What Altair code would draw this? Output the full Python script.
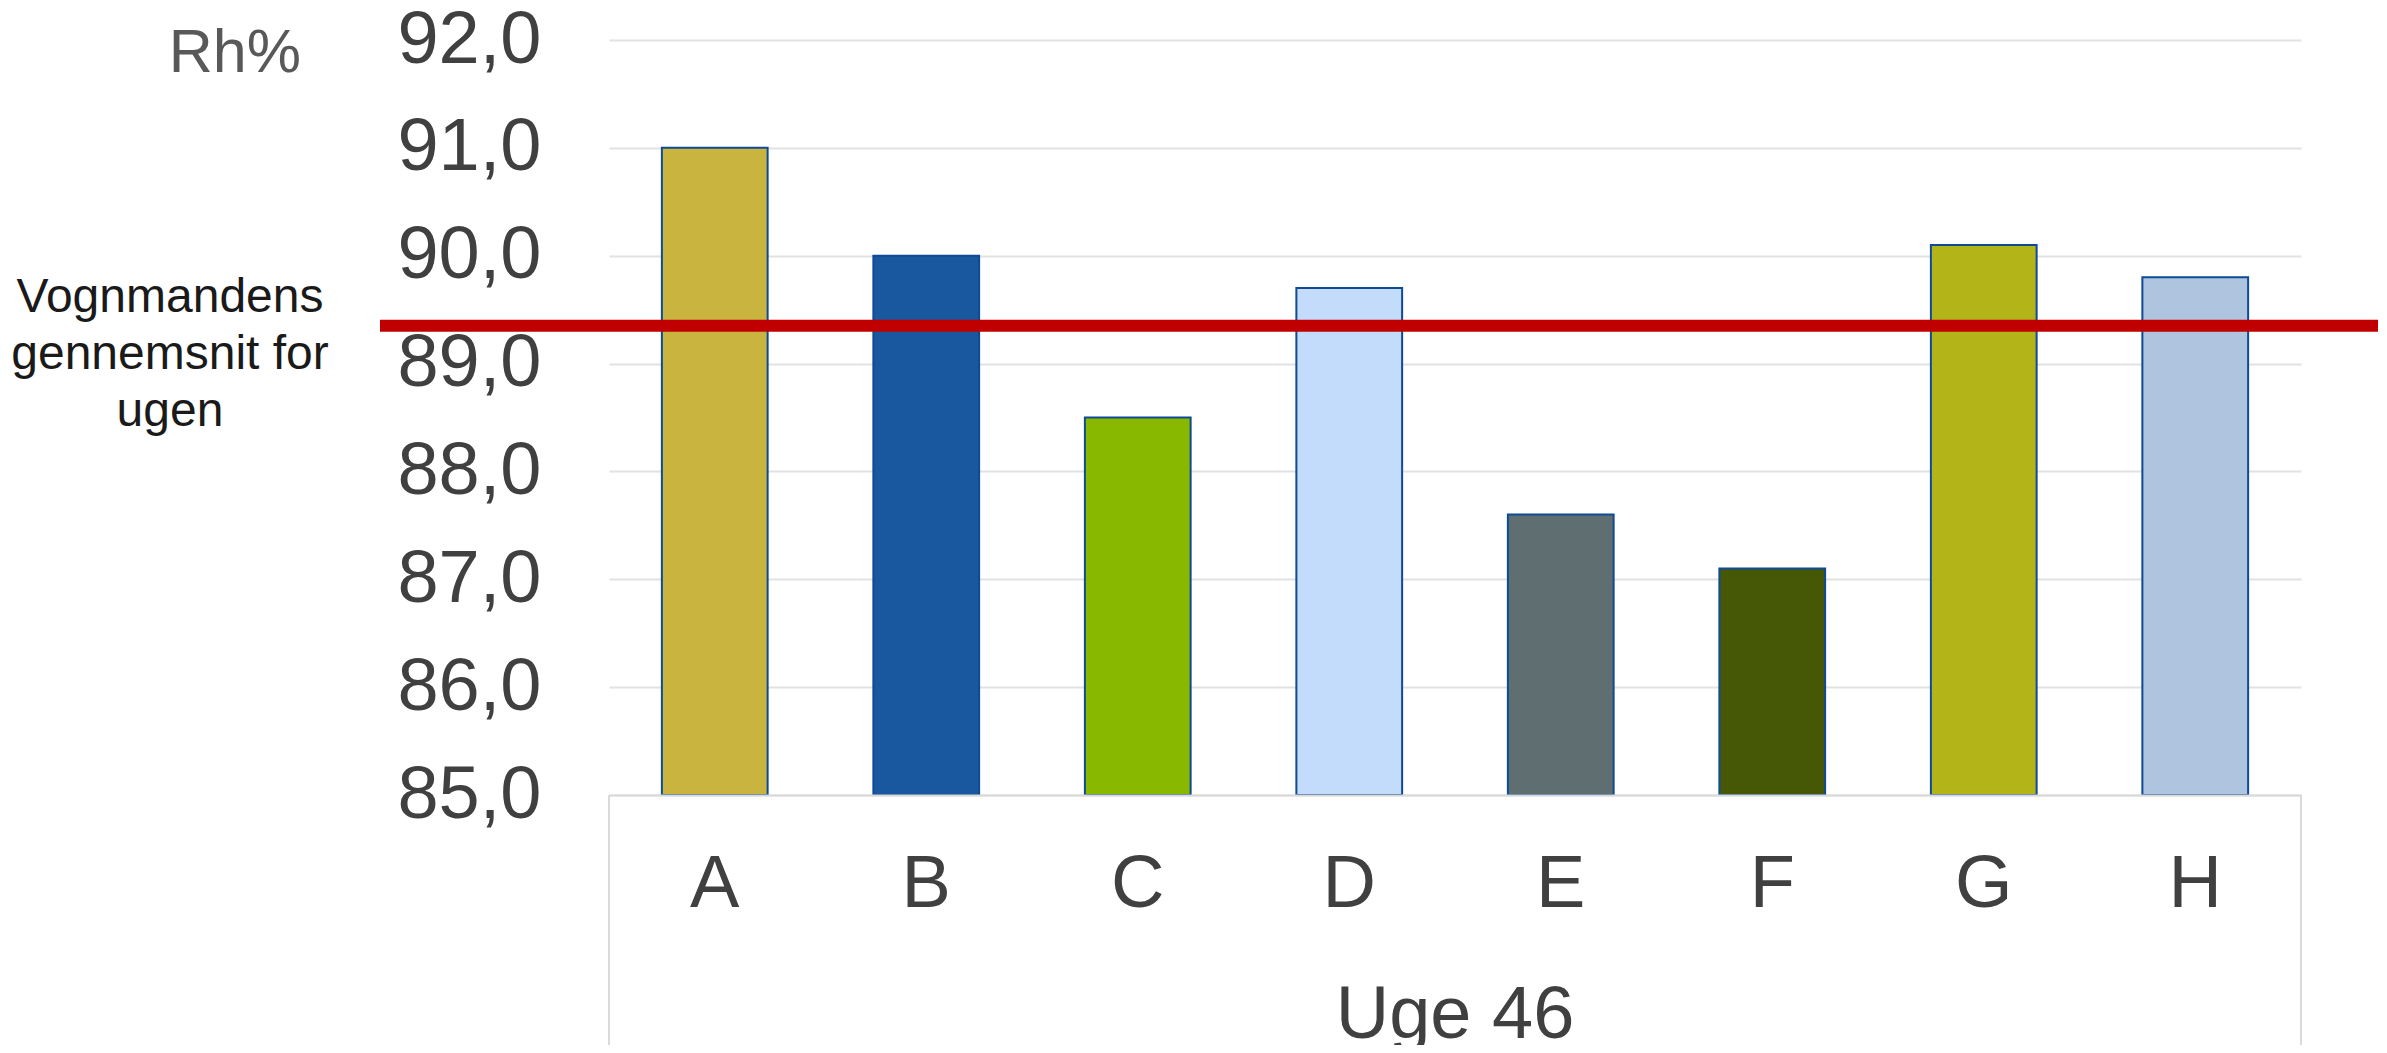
import altair as alt
import pandas as pd

categories = ["A", "B", "C", "D", "E", "F", "G", "H"]
values = [91.0, 90.0, 88.5, 89.7, 87.6, 87.1, 90.1, 89.8]
colors = ["#C8B43E", "#19579F", "#88B800", "#C3DCFB", "#5F6E71", "#465705", "#B2B418", "#AFC4DF"]
average = 89.35
y_min, y_max = 85, 92
y_ticks = [85, 86, 87, 88, 89, 90, 91, 92]
group_label = "Uge 46"
y_title = "Rh%"
avg_label = ["Vognmandens", "gennemsnit for", "ugen"]

W, H = 1692, 755
FONT = "Liberation Sans"

df = pd.DataFrame({"cat": categories, "val": values})

y_scale = alt.Scale(domain=[y_min, y_max], nice=False, zero=False)
x_scale = alt.Scale(domain=categories, paddingInner=0.5, paddingOuter=0.25)

bars = alt.Chart(df).mark_bar(stroke="#0E4A96", strokeWidth=2).encode(
    x=alt.X("cat:N", scale=x_scale, sort=categories,
            axis=alt.Axis(title=None, labelAngle=0, labelFontSize=74, labelFont=FONT,
                          labelColor="#404040", labelPadding=53, ticks=False,
                          domain=True, domainColor="#D9D9D9", domainWidth=2,
                          labelBaseline="top", zindex=1)),
    y=alt.Y("val:Q", scale=y_scale,
            axis=alt.Axis(title=None, values=y_ticks, ticks=False, domain=False,
                          labelFontSize=74, labelFont=FONT, labelColor="#404040",
                          labelPadding=68, labelBaseline="middle",
                          labelExpr="replace(format(datum.value, '.1f'), '.', ',')",
                          gridColor="#E2E2E2", gridWidth=2)),
    y2=alt.datum(y_min),
    color=alt.Color("cat:N", scale=alt.Scale(domain=categories, range=colors), legend=None),
)

avg_rule = alt.Chart(pd.DataFrame({"v": [average]})).mark_rule(
    color="#C00000", strokeWidth=12
).encode(
    y=alt.Y("v:Q", scale=y_scale),
    x=alt.value(-229),
    x2=alt.value(1769),
)

box_left = alt.Chart(pd.DataFrame({"a": [0]})).mark_rule(color="#DADADA", strokeWidth=2).encode(
    x=alt.value(0), y=alt.value(H), y2=alt.value(H + 260)
)
box_right = alt.Chart(pd.DataFrame({"a": [0]})).mark_rule(color="#DADADA", strokeWidth=2).encode(
    x=alt.value(W), y=alt.value(H), y2=alt.value(H + 260)
)

group_text = alt.Chart(pd.DataFrame({"t": [group_label]})).mark_text(
    font=FONT, fontSize=74, color="#404040", align="center", baseline="alphabetic"
).encode(x=alt.value(W / 2), y=alt.value(998), text="t:N")

title_text = alt.Chart(pd.DataFrame({"t": [y_title]})).mark_text(
    font=FONT, fontSize=61, color="#595959", align="right", baseline="alphabetic"
).encode(x=alt.value(-308), y=alt.value(32), text="t:N")

avg_text = alt.Chart(pd.DataFrame({"a": [0]})).mark_text(
    font=FONT, fontSize=48, color="#1A1A1A", align="center", baseline="alphabetic",
    lineHeight=57
).encode(x=alt.value(-439), y=alt.value(272), text=alt.value(avg_label))

chart = alt.layer(bars, avg_rule, box_left, box_right, group_text, title_text, avg_text).properties(
    width=W, height=H,
    padding={"left": 601, "top": 32, "right": 78, "bottom": 250},
    autosize=alt.AutoSizeParams(type="none"),
).configure_view(stroke=None)

chart.save("out.html", embed_options={"renderer": "svg", "actions": False})
